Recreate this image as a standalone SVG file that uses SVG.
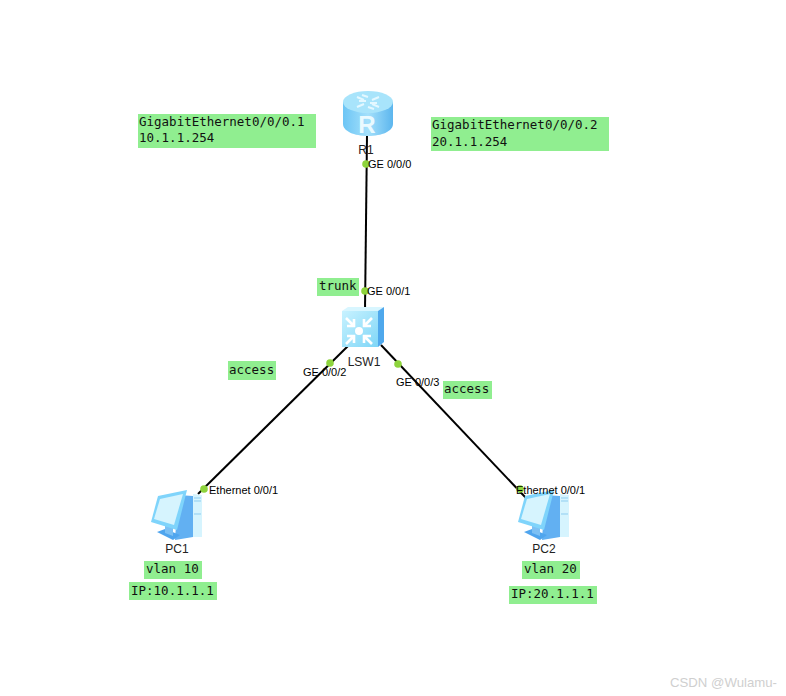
<svg xmlns="http://www.w3.org/2000/svg" width="786" height="696" viewBox="0 0 786 696">
<style>
.lbl{font-family:"Liberation Sans",Arial,sans-serif;font-size:11px;fill:#000}
.name{font-family:"Liberation Sans",Arial,sans-serif;font-size:12px;fill:#222}
.note{font-family:"DejaVu Sans Mono","Liberation Mono",monospace;font-size:12.5px;fill:#111}
.box{fill:#90ee90}
.dot{fill:#8ed43c}
.wire{stroke:#000;stroke-width:2;fill:none}
</style>
<defs>
<linearGradient id="rt" x1="0" y1="0" x2="1" y2="0"><stop offset="0" stop-color="#6cc5f5"/><stop offset=".5" stop-color="#a4e0fb"/><stop offset="1" stop-color="#5cb6ee"/></linearGradient>
<linearGradient id="sw" x1="0" y1="0" x2="1" y2="1"><stop offset="0" stop-color="#c8f2ff"/><stop offset="1" stop-color="#7fd6f7"/></linearGradient>
<g id="pc">
<path d="M8 -9 L23 -8 L23 33 L5 36Z" fill="#62b0f2"/>
<path d="M23 -10 L32 -9 L32 33 L23 33Z" fill="#d6f4fe"/>
<path d="M24 -6 H31 M24 -3 H31 M24 10 H31" stroke="#8fcdf0" stroke-width="1"/>
<path d="M-13 28 L-5 25 L10 31 L3 36Z" fill="#4fa5ee"/>
<path d="M-5 20 L3 23 L3 32 L-5 29Z" fill="#7cc0f4"/>
<path d="M-12 -8 L17 -14 L7 26 L-19 18Z" fill="#7fd4fb"/>
<path d="M-10 -5 L13 -10 L4 21 L-16 15Z" fill="#d6f4fe"/>
</g>
</defs>
<rect width="786" height="696" fill="#fff"/>
<g id="connectors">
<path class="wire" d="M367 135 L365 311"/>
<path class="wire" d="M349 345 L198 494"/>
<path class="wire" d="M381 345 L526 498"/>
</g>
<g id="R1">
<path d="M343 102 V124 C343 131 354 136 368 136 C382 136 393 131 393 124 V102Z" fill="url(#rt)"/>
<ellipse cx="368" cy="102" rx="25" ry="11" fill="#a8e4fb"/>
<g stroke="#e4f8ff" stroke-width="2" fill="none"><path d="M357 97 L364 100 M379 97 L372 100 M357 107 L364 104 M379 107 L372 104 M359 101 H366 M377 103 H370 M362 95 L368 97 M374 109 L368 107"/></g>
<text x="367" y="133" text-anchor="middle" font-family="Liberation Sans,Arial,sans-serif" font-size="24" font-weight="bold" fill="#eafaff">R</text>
<text class="name" x="366" y="154" text-anchor="middle">R1</text>
</g>
<g id="LSW1">
<path d="M342 311 L348 307 L384 307 L378 311Z" fill="#d8f6ff"/>
<path d="M378 311 L384 307 L384 342 L378 347Z" fill="#4fa8ec"/>
<rect x="342" y="311" width="36" height="36" fill="url(#sw)"/>
<circle cx="359" cy="331" r="4" fill="#fff"/>
<g stroke="#fff" stroke-width="2.6" fill="none"><path d="M346 318 L354 326 M347 326 H354 V319 M372 318 L364 326 M371 326 H364 V319 M346 344 L354 336 M347 336 H354 V343 M372 344 L364 336 M371 336 H364 V343"/></g>
<text class="name" x="364" y="366" text-anchor="middle">LSW1</text>
</g>
<g id="PC1">
<use href="#pc" x="170" y="504"/>
<text class="name" x="177" y="553" text-anchor="middle">PC1</text>
</g>
<g id="PC2">
<use href="#pc" x="537" y="504"/>
<text class="name" x="544" y="553" text-anchor="middle">PC2</text>
</g>
<g id="ports">
<circle class="dot" cx="366" cy="164" r="3.8"/><text class="lbl" x="368" y="168">GE 0/0/0</text>
<circle class="dot" cx="365" cy="291" r="3.8"/><text class="lbl" x="367" y="295">GE 0/0/1</text>
<circle class="dot" cx="330" cy="363" r="3.8"/><text class="lbl" x="303" y="376">GE 0/0/2</text>
<circle class="dot" cx="398" cy="364" r="3.8"/><text class="lbl" x="396" y="386">GE 0/0/3</text>
<circle class="dot" cx="204" cy="489" r="3.8"/><text class="lbl" x="209" y="494">Ethernet 0/0/1</text>
<circle class="dot" cx="520" cy="489" r="3.8"/><text class="lbl" x="516" y="494">Ethernet 0/0/1</text>
</g>
<g id="notes">
<rect class="box" x="138" y="114" width="178" height="34"/><text class="note" x="139" y="126">GigabitEthernet0/0/0.1</text><text class="note" x="139" y="142">10.1.1.254</text>
<rect class="box" x="431" y="117" width="178" height="34"/><text class="note" x="432" y="129">GigabitEthernet0/0/0.2</text><text class="note" x="432" y="146">20.1.1.254</text>
<rect class="box" x="317" y="278" width="42" height="18"/><text class="note" x="319" y="290">trunk</text>
<rect class="box" x="228" y="361" width="48" height="19"/><text class="note" x="229" y="374">access</text>
<rect class="box" x="443" y="381" width="49" height="18"/><text class="note" x="444" y="393">access</text>
<rect class="box" x="144" y="561" width="58" height="18"/><text class="note" x="146" y="573">vlan 10</text>
<rect class="box" x="129" y="582" width="88" height="18"/><text class="note" x="131" y="595">IP:10.1.1.1</text>
<rect class="box" x="522" y="561" width="58" height="18"/><text class="note" x="524" y="573">vlan 20</text>
<rect class="box" x="509" y="586" width="88" height="18"/><text class="note" x="511" y="598">IP:20.1.1.1</text>
</g>
<text x="670" y="687" font-family="Liberation Sans,Arial,sans-serif" font-size="13.2" fill="#cfcfcf">CSDN @Wulamu-</text>
</svg>
